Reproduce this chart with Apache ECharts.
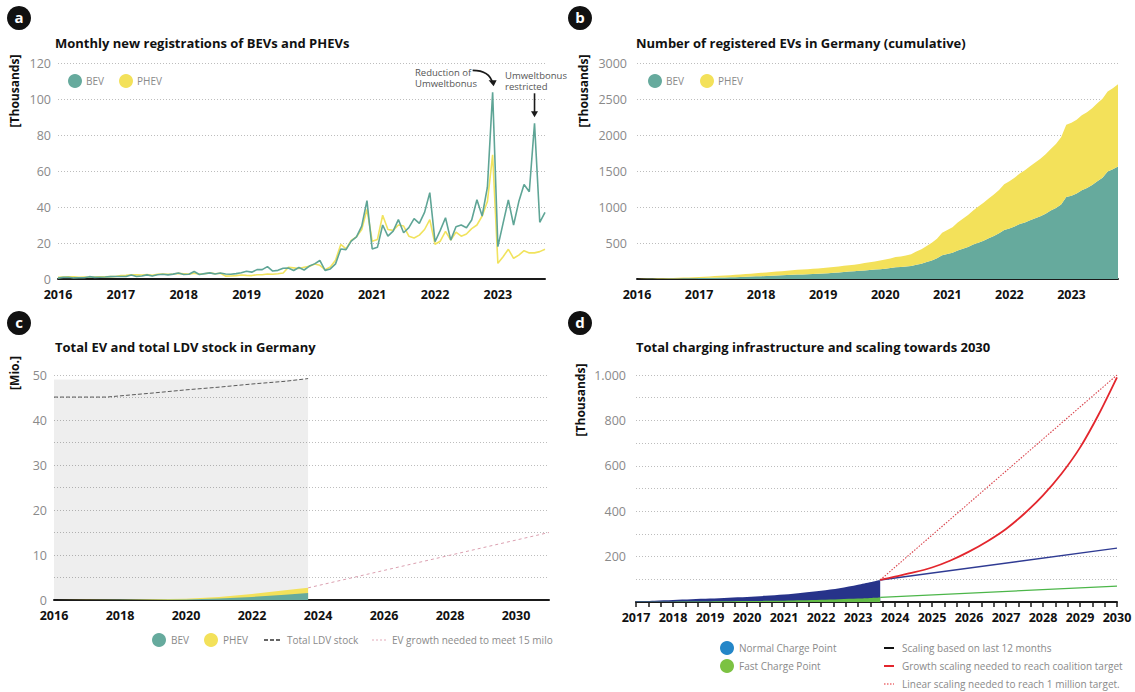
<!DOCTYPE html>
<html>
<head>
<meta charset="utf-8">
<script src="https://cdn.jsdelivr.net/npm/echarts@6/dist/echarts.min.js"></script>
<style>
  html, body { margin: 0; padding: 0; background: #fff; }
  #chart { width: 1135px; height: 692px; }
</style>
</head>
<body>
<div id="chart"></div>
<script>
// ---------- data ----------
// Month categories Jan 2016 – Oct 2023
const months = [];
for (let y = 2016; y <= 2023; y++) {
  for (let m = 1; m <= 12; m++) {
    if (y === 2023 && m > 10) break;
    months.push(y + '-' + String(m).padStart(2, '0'));
  }
}

// Monthly new registrations [thousands]
const bevMonthly = [
  0.5, 0.9, 1.0, 0.6, 0.7, 0.7, 1.3, 0.9, 1.0, 1.1, 1.3, 1.4,
  1.4, 1.4, 2.2, 1.4, 1.7, 2.3, 1.7, 2.4, 2.6, 2.3, 2.7, 3.3,
  2.5, 2.6, 4.2, 2.5, 3.0, 3.4, 2.8, 3.3, 2.8, 2.6, 3.0, 3.5,
  4.3, 3.8, 5.2, 5.2, 6.9, 4.4, 4.8, 6.0, 6.1, 4.7, 6.4, 5.0,
  7.2, 8.4, 10.3, 4.8, 5.6, 8.4, 16.7, 16.3, 21.0, 23.4, 29.4, 43.5,
  16.7, 17.6, 30.0, 23.8, 26.6, 33.0, 25.7, 28.5, 33.5, 30.9, 37.0, 48.0,
  20.7, 27.0, 34.0, 21.6, 29.0, 30.0, 28.5, 32.8, 44.0, 35.0, 51.0, 103.7,
  18.0, 31.0, 44.0, 30.0, 43.0, 52.5, 48.5, 86.5, 31.5, 37.0
];
const phevMonthly = [
  0.9, 1.1, 1.2, 1.2, 1.0, 1.1, 1.0, 1.1, 1.2, 1.2, 1.3, 1.4,
  1.9, 2.0, 2.4, 2.3, 2.2, 2.5, 2.0, 2.6, 2.8, 2.6, 2.8, 3.1,
  2.9, 2.7, 3.2, 2.7, 2.9, 3.4, 2.9, 3.2, 1.6, 1.7, 1.9, 2.2,
  2.0, 1.9, 2.4, 2.4, 2.8, 2.6, 2.9, 3.3, 6.5, 6.2, 5.8, 6.5,
  7.0, 8.3, 7.6, 5.2, 6.7, 10.4, 19.2, 16.7, 21.5, 23.4, 27.5, 38.7,
  21.0, 22.0, 35.4, 27.5, 27.0, 30.0, 29.4, 23.8, 22.8, 24.4, 27.5, 33.0,
  19.3, 21.0, 26.5, 21.6, 26.0, 23.8, 25.0, 28.0, 30.0, 35.0, 43.0, 69.0,
  8.7, 12.4, 16.5, 11.5, 13.3, 15.7, 14.5, 14.5, 15.2, 16.5
];

// Registered EVs, running total [thousands]
const bevCumulative = [
  0.5, 1.4, 2.4, 3.0, 3.7, 4.4, 5.7, 6.6, 7.6, 8.7, 10.0, 11.4,
  12.8, 14.2, 16.4, 17.8, 19.5, 21.8, 23.5, 25.9, 28.5, 30.8, 33.5, 36.8,
  39.3, 41.9, 46.1, 48.6, 51.6, 55.0, 57.8, 61.1, 63.9, 66.5, 69.5, 73.0,
  77.3, 81.1, 86.3, 91.5, 98.4, 102.8, 107.6, 113.6, 119.7, 124.4, 130.8, 135.8,
  143.0, 151.4, 161.7, 166.5, 172.1, 180.5, 197.2, 213.5, 234.5, 257.9, 287.3, 330.8,
  347.5, 365.1, 395.1, 418.9, 445.5, 478.5, 504.2, 532.7, 566.2, 597.1, 634.1, 682.1,
  702.8, 729.8, 763.8, 785.4, 814.4, 844.4, 872.9, 905.7, 949.7, 984.7, 1035.7, 1139.4,
  1157.4, 1188.4, 1232.4, 1262.4, 1305.4, 1357.9, 1406.4, 1492.9, 1524.4, 1561.4
];
const phevCumulative = [
  0.9, 2.0, 3.2, 4.4, 5.4, 6.5, 7.5, 8.6, 9.8, 11.0, 12.3, 13.7,
  15.6, 17.6, 20.0, 22.3, 24.5, 27.0, 29.0, 31.6, 34.4, 37.0, 39.8, 42.9,
  45.8, 48.5, 51.7, 54.4, 57.3, 60.7, 63.6, 66.8, 68.4, 70.1, 72.0, 74.2,
  76.2, 78.1, 80.5, 82.9, 85.7, 88.3, 91.2, 94.5, 101.0, 107.2, 113.0, 119.5,
  126.5, 134.8, 142.4, 147.6, 154.3, 164.7, 183.9, 200.6, 222.1, 245.5, 273.0, 311.7,
  332.7, 354.7, 390.1, 417.6, 444.6, 474.6, 504.0, 527.8, 550.6, 575.0, 602.5, 635.5,
  654.8, 675.8, 702.3, 723.9, 749.9, 773.7, 798.7, 826.7, 856.7, 891.7, 934.7, 1003.7,
  1012.4, 1024.8, 1041.3, 1052.8, 1066.1, 1081.8, 1096.3, 1110.8, 1126.0, 1142.5
];

// EV and LDV stock [Mio.]
const stockYears   = [2016, 2017, 2018, 2019, 2020, 2021, 2022, 2023, 2023.7];
const bevStock     = [0.0005, 0.012, 0.037, 0.073, 0.136, 0.331, 0.682, 1.139, 1.561];
const evStockTotal = [0.0014, 0.028, 0.080, 0.147, 0.256, 0.643, 1.318, 2.143, 2.704]; // BEV + PHEV
const ldvYears   = [2016, 2017.6, 2019, 2020, 2021, 2022, 2023, 2023.7];
const ldvStock   = [45.1, 45.1, 46.0, 46.7, 47.3, 48.0, 48.6, 49.2];
const targetYears = [2023.7, 2031];
const evTarget    = [2.7, 15];
const historyEnd = 2023.7;
const historyTop = 49;

// Charging infrastructure [thousands]
const chargeYears = [2017, 2017.5, 2018, 2018.5, 2019, 2019.5, 2020, 2020.5, 2021, 2021.5, 2022, 2022.5, 2023, 2023.6];
const normalCP    = [4, 6, 9, 12, 15, 19, 22, 27, 33, 41, 50, 61, 76, 97];
const fastCP      = [0.5, 1, 1.5, 2, 2.5, 3.2, 4, 5, 6, 7.5, 10, 12.5, 15, 20];
const scaleYears  = [2023.6, 2030];
const normalScaled = [97, 237];
const fastScaled   = [20, 70];
const linearTarget = [97, 1000];
const growthYears  = [2023.6, 2024, 2024.5, 2025, 2025.5, 2026, 2026.5, 2027, 2027.5, 2028, 2028.5, 2029, 2029.5, 2030];
const growthNeeded = [97, 112, 130, 152, 183, 222, 268, 322, 390, 470, 565, 680, 825, 990];

// ---------- styling ----------
const FONT = '"Open Sans", "Noto Sans", sans-serif';
const TEAL = '#66aa9d';
const TEAL_LINE = '#5fa596';
const YELLOW = '#f3e15a';
const YELLOW_LINE = '#f1e35e';
const NAVY = '#27338a';
const GREEN = '#63bb46';
const RED = '#e3262d';
const LEGEND_GREY = '#8a8a8a';
const GRID_LINE = { show: true, lineStyle: { type: [1, 2], color: '#bdbdbd', width: 1 } };
const AXIS_LINE = { show: true, onZero: false, lineStyle: { color: '#1a1a1a', width: 2 } };
const YEAR_LABEL = { color: '#111', fontWeight: 'bold', fontSize: 12.5, fontFamily: FONT };
const Y_LABEL = { color: '#8a8a8a', fontSize: 12.5, fontFamily: FONT };

const zip = (xs, ys) => xs.map((x, i) => [x, ys[i]]);

function badge(cx, cy, letter) {
  return [
    { type: 'circle', shape: { cx: cx, cy: cy, r: 12 }, style: { fill: '#111' } },
    { type: 'text', x: cx, y: cy - 1, style: { text: letter, fill: '#fff', font: 'bold 15px ' + FONT,
      align: 'center', verticalAlign: 'middle', textAlign: 'center', textVerticalAlign: 'middle' } }
  ];
}
function label(x, y, text, opts) {
  opts = opts || {};
  return { type: 'text', x: x, y: y, rotation: opts.rotation || 0,
    style: { text: text, fill: opts.color || '#111', font: (opts.weight || 'normal') + ' ' + (opts.size || 12) + 'px ' + FONT,
      align: opts.align || 'left', textAlign: opts.align || 'left',
      verticalAlign: 'middle', textVerticalAlign: 'middle' } };
}
function legendText(x, y, text) {
  return label(x, y, text, { color: LEGEND_GREY, size: 10 });
}
function dot(cx, cy, color) {
  return { type: 'circle', shape: { cx: cx, cy: cy, r: 7 }, style: { fill: color } };
}
function dash(x1, x2, y, color, lineDash, width) {
  return { type: 'line', shape: { x1: x1, y1: y, x2: x2, y2: y },
    style: { stroke: color, lineWidth: width || 1.5, lineDash: lineDash || null } };
}

const chart = echarts.init(document.getElementById('chart'), null, { renderer: 'svg' });

const option = {
  animation: false,
  backgroundColor: '#fff',
  textStyle: { fontFamily: FONT },
  grid: [
    { left: 58, top: 63, width: 487, height: 216 },
    { left: 637, top: 63, width: 481, height: 216 },
    { left: 54, top: 375, width: 495, height: 225 },
    { left: 636, top: 375, width: 481, height: 227 }
  ],
  xAxis: [
    { type: 'category', gridIndex: 0, data: months, boundaryGap: false,
      axisLine: AXIS_LINE, axisTick: { show: false }, splitLine: { show: false },
      axisLabel: Object.assign({ interval: 11, margin: 9, formatter: v => v.slice(0, 4) }, YEAR_LABEL) },
    { type: 'category', gridIndex: 1, data: months, boundaryGap: false,
      axisLine: AXIS_LINE, axisTick: { show: false }, splitLine: { show: false },
      axisLabel: Object.assign({ interval: 11, margin: 9, formatter: v => v.slice(0, 4) }, YEAR_LABEL) },
    { type: 'value', gridIndex: 2, min: 2016, max: 2031, interval: 2,
      axisLine: AXIS_LINE, axisTick: { show: false }, splitLine: { show: false },
      axisLabel: Object.assign({ margin: 9, showMaxLabel: false, formatter: v => String(v) }, YEAR_LABEL) },
    { type: 'value', gridIndex: 3, min: 2017, max: 2030, interval: 1,
      axisLine: AXIS_LINE, splitLine: { show: false },
      axisTick: { show: true, length: 5, lineStyle: { color: '#1a1a1a', width: 1.5 } },
      minorTick: { show: true, splitNumber: 3, length: 5, lineStyle: { color: '#1a1a1a', width: 1.5 } },
      axisLabel: Object.assign({ margin: 9, formatter: v => String(v) }, YEAR_LABEL) }
  ],
  yAxis: [
    { type: 'value', gridIndex: 0, min: 0, max: 120, interval: 20,
      axisLine: { show: false }, axisTick: { show: false }, splitLine: GRID_LINE,
      axisLabel: Object.assign({ margin: 7 }, Y_LABEL) },
    { type: 'value', gridIndex: 1, min: 0, max: 3000, interval: 500,
      axisLine: { show: false }, axisTick: { show: false }, splitLine: GRID_LINE,
      axisLabel: Object.assign({ margin: 10, formatter: v => (v === 0 ? '' : String(v)) }, Y_LABEL) },
    { type: 'value', gridIndex: 2, min: 0, max: 50, interval: 5,
      axisLine: { show: false }, axisTick: { show: false }, splitLine: GRID_LINE,
      axisLabel: Object.assign({ margin: 7, formatter: v => (v % 10 === 0 ? String(v) : '') }, Y_LABEL) },
    { type: 'value', gridIndex: 3, min: 0, max: 1000, interval: 100,
      axisLine: { show: false }, axisTick: { show: false }, splitLine: GRID_LINE,
      axisLabel: Object.assign({ margin: 10, formatter: v => (v > 0 && v % 200 === 0 ? (v === 1000 ? '1.000' : String(v)) : '') }, Y_LABEL) }
  ],
  series: [
    // a: monthly registrations
    { type: 'line', name: 'PHEV', xAxisIndex: 0, yAxisIndex: 0, data: phevMonthly, symbol: 'none',
      lineStyle: { color: YELLOW_LINE, width: 1.6 }, itemStyle: { color: YELLOW_LINE }, z: 2 },
    { type: 'line', name: 'BEV', xAxisIndex: 0, yAxisIndex: 0, data: bevMonthly, symbol: 'none',
      lineStyle: { color: TEAL_LINE, width: 1.6 }, itemStyle: { color: TEAL_LINE }, z: 3 },
    // b: cumulative stacked areas
    { type: 'line', name: 'BEV', xAxisIndex: 1, yAxisIndex: 1, data: bevCumulative, stack: 'cum', symbol: 'none',
      lineStyle: { width: 0 }, areaStyle: { color: TEAL, opacity: 1 }, itemStyle: { color: TEAL }, z: 2 },
    { type: 'line', name: 'PHEV', xAxisIndex: 1, yAxisIndex: 1, data: phevCumulative, stack: 'cum', symbol: 'none',
      lineStyle: { width: 0 }, areaStyle: { color: YELLOW, opacity: 1 }, itemStyle: { color: YELLOW }, z: 2 },
    // c: historic period shading
    { type: 'line', xAxisIndex: 2, yAxisIndex: 2, data: [[2016, 0]], symbol: 'none', lineStyle: { width: 0 }, z: 1,
      markArea: { silent: true, itemStyle: { color: 'rgba(0,0,0,0.065)' },
        data: [[{ coord: [2016, 0] }, { coord: [historyEnd, historyTop] }]] } },
    // c: EV stock — PHEV band drawn as the total behind the BEV area
    { type: 'line', name: 'PHEV', xAxisIndex: 2, yAxisIndex: 2, data: zip(stockYears, evStockTotal), symbol: 'none',
      lineStyle: { width: 0 }, areaStyle: { color: YELLOW, opacity: 1 }, z: 2 },
    { type: 'line', name: 'BEV', xAxisIndex: 2, yAxisIndex: 2, data: zip(stockYears, bevStock), symbol: 'none',
      lineStyle: { width: 0 }, areaStyle: { color: TEAL, opacity: 1 }, z: 3 },
    { type: 'line', name: 'Total LDV stock', xAxisIndex: 2, yAxisIndex: 2, data: zip(ldvYears, ldvStock), symbol: 'none',
      lineStyle: { color: '#5a5a5a', width: 1, type: [4, 2] }, z: 4 },
    { type: 'line', name: 'EV growth needed', xAxisIndex: 2, yAxisIndex: 2, data: zip(targetYears, evTarget), symbol: 'none',
      lineStyle: { color: '#dba0b0', width: 1, type: [3, 3] }, z: 4 },
    // d: charging infrastructure
    { type: 'line', name: 'Normal Charge Point', xAxisIndex: 3, yAxisIndex: 3, data: zip(chargeYears, normalCP), symbol: 'none',
      smooth: 0.3, lineStyle: { width: 0 }, areaStyle: { color: NAVY, opacity: 1 }, z: 2 },
    { type: 'line', name: 'Fast Charge Point', xAxisIndex: 3, yAxisIndex: 3, data: zip(chargeYears, fastCP), symbol: 'none',
      smooth: 0.3, lineStyle: { width: 0 }, areaStyle: { color: GREEN, opacity: 1 }, z: 3 },
    { type: 'line', xAxisIndex: 3, yAxisIndex: 3, data: zip(scaleYears, normalScaled), symbol: 'none',
      lineStyle: { color: '#2f3b93', width: 1.3 }, z: 4 },
    { type: 'line', xAxisIndex: 3, yAxisIndex: 3, data: zip(scaleYears, fastScaled), symbol: 'none',
      lineStyle: { color: '#4cb649', width: 1.3 }, z: 4 },
    { type: 'line', xAxisIndex: 3, yAxisIndex: 3, data: zip(scaleYears, linearTarget), symbol: 'none',
      lineStyle: { color: '#d9434b', width: 1.1, type: [1.5, 1.5] }, z: 4 },
    { type: 'line', xAxisIndex: 3, yAxisIndex: 3, data: zip(growthYears, growthNeeded), symbol: 'none', smooth: 0.3,
      lineStyle: { color: RED, width: 1.8 }, z: 5 }
  ]
};
chart.setOption(option);

// ---------- annotations, titles, legends ----------
const iDec = months.indexOf('2022-12');
const iAug = months.indexOf('2023-08');
const peakDec = chart.convertToPixel({ gridIndex: 0 }, [iDec, bevMonthly[iDec]]);
const peakAug = chart.convertToPixel({ gridIndex: 0 }, [iAug, bevMonthly[iAug]]);

const arrow1End = [peakDec[0] + 1, peakDec[1] - 7];
const arrow2End = [peakAug[0], peakAug[1] - 6];

const graphics = [].concat(
  badge(19, 18, 'a'), badge(580, 18, 'b'), badge(19, 323, 'c'), badge(580, 323, 'd'),
  [
    label(55, 43, 'Monthly new registrations of BEVs and PHEVs', { weight: 'bold', size: 13 }),
    label(636, 43, 'Number of registered EVs in Germany (cumulative)', { weight: 'bold', size: 13 }),
    label(55, 347, 'Total EV and total LDV stock in Germany', { weight: 'bold', size: 13 }),
    label(636, 347, 'Total charging infrastructure and scaling towards 2030', { weight: 'bold', size: 13 }),

    label(14, 91, '[Thousands]', { weight: 'bold', size: 12, rotation: Math.PI / 2, align: 'center' }),
    label(583, 91, '[Thousands]', { weight: 'bold', size: 12, rotation: Math.PI / 2, align: 'center' }),
    label(14, 373, '[Mio.]', { weight: 'bold', size: 12, rotation: Math.PI / 2, align: 'center' }),
    label(580, 400, '[Thousands]', { weight: 'bold', size: 12, rotation: Math.PI / 2, align: 'center' }),

    // legend a
    dot(75, 81, TEAL), legendText(86, 81, 'BEV'),
    dot(126, 81, YELLOW), legendText(137, 81, 'PHEV'),
    // legend b
    dot(655, 81, TEAL), legendText(666, 81, 'BEV'),
    dot(707, 81, YELLOW), legendText(718, 81, 'PHEV'),
    // legend c
    dot(159, 640, TEAL), legendText(171, 640, 'BEV'),
    dot(211, 640, YELLOW), legendText(223, 640, 'PHEV'),
    dash(264, 281, 640, '#333', [4, 2], 1.5), legendText(287, 640, 'Total LDV stock'),
    dash(372, 386, 640, '#e2aab8', [2, 2], 1), legendText(392, 640, 'EV growth needed to meet 15 milo'),
    // legend d
    dot(727, 648, '#2486c8'), legendText(739, 648, 'Normal Charge Point'),
    dot(727, 666, '#7cc242'), legendText(739, 666, 'Fast Charge Point'),
    dash(884, 894, 648, '#111', null, 2), legendText(902, 648, 'Scaling based on last 12 months'),
    dash(884, 894, 666, RED, null, 2), legendText(902, 666, 'Growth scaling needed to reach coalition target'),
    dash(884, 894, 684, RED, [1.5, 1.5], 1.2), legendText(902, 684, 'Linear scaling needed to reach 1 million target.'),

    // annotation: reduction of Umweltbonus
    label(415, 72, 'Reduction of', { color: '#555', size: 9.5 }),
    label(415, 83, 'Umweltbonus', { color: '#555', size: 9.5 }),
    { type: 'bezierCurve', shape: { x1: arrow1End[0] - 21, y1: arrow1End[1] - 15, cpx1: arrow1End[0] - 4, cpy1: arrow1End[1] - 15,
        x2: arrow1End[0] - 1, y2: arrow1End[1] - 2 }, style: { stroke: '#1a1a1a', lineWidth: 1.6, fill: null } },
    { type: 'polygon', shape: { points: [[arrow1End[0] - 5, arrow1End[1] - 5], [arrow1End[0] + 3, arrow1End[1] - 5], [arrow1End[0], arrow1End[1] + 1]] },
      style: { fill: '#1a1a1a' } },
    // annotation: Umweltbonus restricted
    label(505, 75, 'Umweltbonus', { color: '#555', size: 9.5 }),
    label(505, 86, 'restricted', { color: '#555', size: 9.5 }),
    { type: 'line', shape: { x1: arrow2End[0], y1: arrow2End[1] - 24, x2: arrow2End[0], y2: arrow2End[1] - 3 },
      style: { stroke: '#1a1a1a', lineWidth: 1.6 } },
    { type: 'polygon', shape: { points: [[arrow2End[0] - 3.5, arrow2End[1] - 6], [arrow2End[0] + 3.5, arrow2End[1] - 6], [arrow2End[0], arrow2End[1]]] },
      style: { fill: '#1a1a1a' } }
  ]
);

chart.setOption({ graphic: { elements: graphics } });
</script>
</body>
</html>
